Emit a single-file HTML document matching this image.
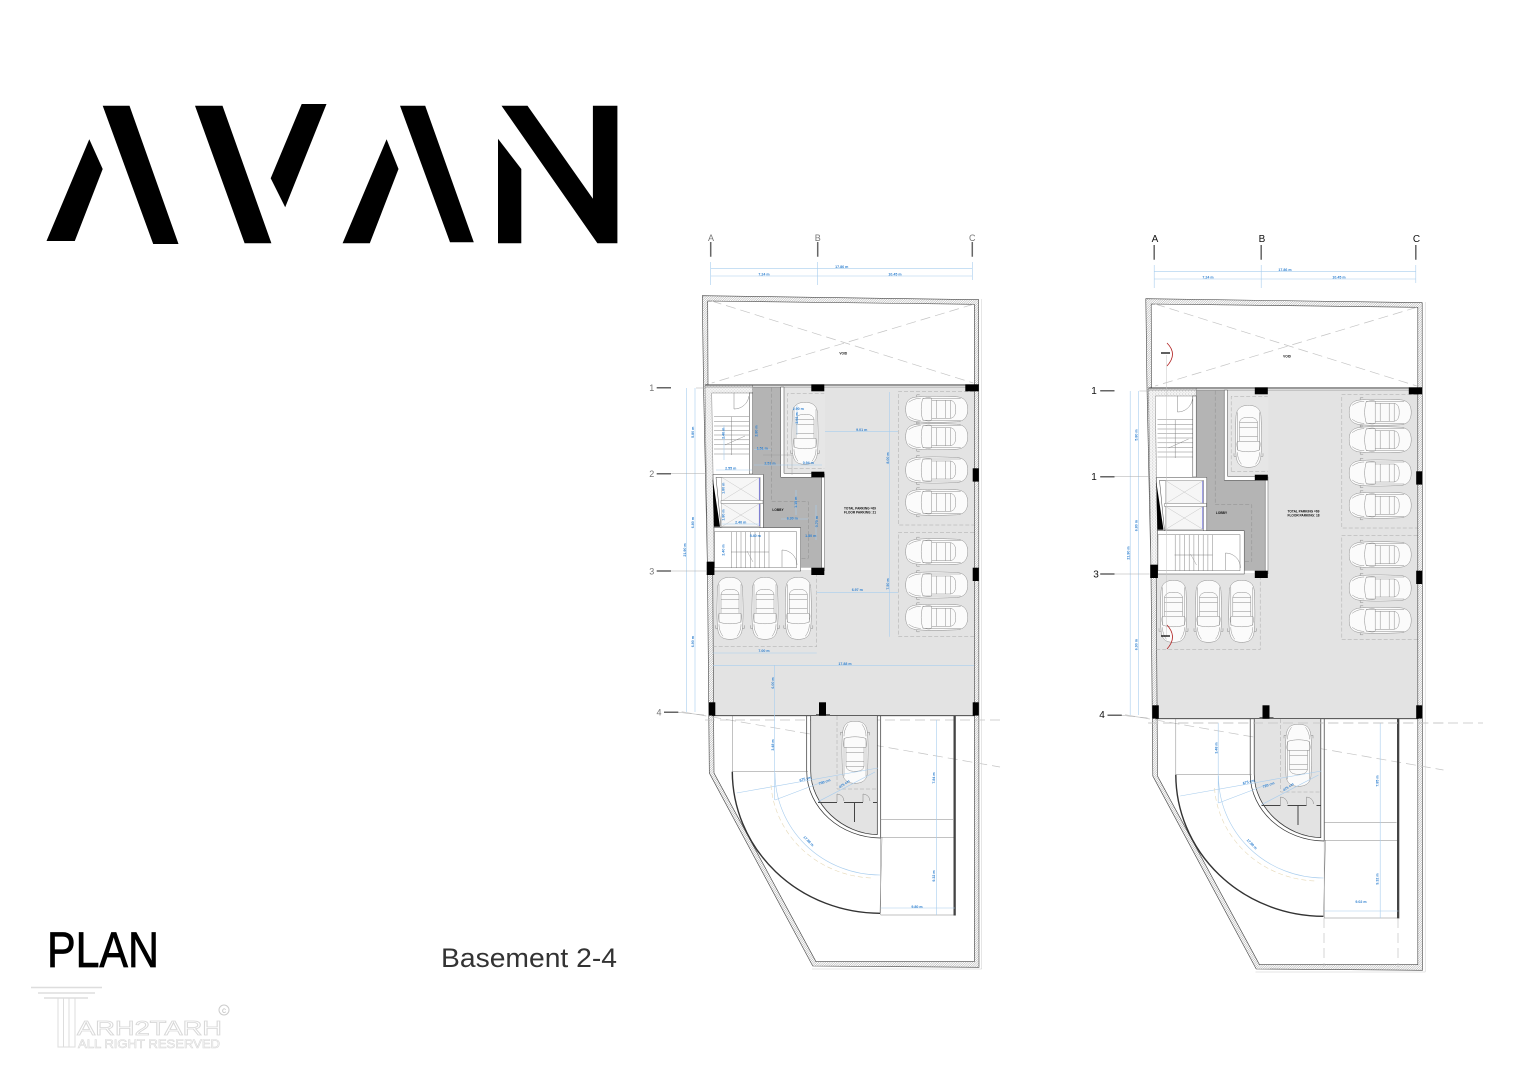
<!DOCTYPE html>
<html><head><meta charset="utf-8"><title>AVAN Plan</title>
<style>html,body{margin:0;padding:0;background:#fff}svg{display:block}
text{font-family:"Liberation Sans",sans-serif}
.d{fill:#2f80d0;font-size:3.6px;font-weight:bold;text-anchor:middle}
.k{fill:#111;font-size:3.2px;font-weight:bold;text-anchor:middle}
.g{fill:#777;font-size:9px;text-anchor:middle}
.b{fill:#111;font-size:10px;text-anchor:middle}
.dim{stroke:#a8cdee;stroke-width:.6;fill:none}
.dash{stroke:#c4c4c4;stroke-width:.7;stroke-dasharray:10 5;fill:none}
.thin{stroke:#777;stroke-width:.45;fill:none}
.wm{fill:#fff;stroke:#d8d8d8;stroke-width:.8}
</style></head><body>
<svg xmlns="http://www.w3.org/2000/svg" width="1527" height="1080" viewBox="0 0 1527 1080">
<defs>
<pattern id="h" width="1.6" height="1.6" patternUnits="userSpaceOnUse" patternTransform="rotate(45)"><rect width="1.6" height="1.6" fill="#fff"/><line x1="0" y1="0" x2="0" y2="1.6" stroke="#666" stroke-width=".55"/></pattern>
<pattern id="s" width="3" height="3" patternUnits="userSpaceOnUse"><rect width="3" height="3" fill="#f4f4f4"/><circle cx="1" cy="1" r=".35" fill="#888"/><circle cx="2.4" cy="2.2" r=".3" fill="#aaa"/></pattern>
<g id="car" fill="none" stroke="#8c8c8c" stroke-width=".5">
<path fill="#fbfbfb" d="M-31,0C-31,-8-28,-12-18,-12.500C-8,-13.500 8,-13 20,-12.500C28,-12 31,-7 31,0C31,7 28,12 20,12.500C8,13-8,13.500-18,12.500C-28,12-31,8-31,0Z"/>
<path d="M-14,-10.500C-9,-12-7,-12-5,-11L-5,11C-7,12-9,12-14,10.500C-16,4-16,-4-14,-10.500Z"/>
<path d="M-5,-9L14,-9L14,9L-5,9M0,-9L0,9M9,-9L9,9M14,-9C18,-8 19,-5 19,0C19,5 18,8 14,9"/>
<path d="M-28,-7C-24,-10-20,-11-16,-11M-28,7C-24,10-20,11-16,11M-20,-12.500L-20,-14.500L-17,-14.500M-20,12.500L-20,14.500L-17,14.500M-14,-11L24,-11M-14,11L24,11"/>
</g>
<g id="p">
<!-- floor -->
<path fill="#e3e3e3" d="M783,387H974.300V715.700H712.700L712,570H816.700V572H825V474H783Z"/>
<rect x="784" y="388" width="41" height="86" fill="#e6e6e6"/>
<!-- lobby -->
<path fill="#b4b4b4" d="M752.700,387H780.700V476.700H821.700V567.700H800.700V528.300H763.300V474.300H752.700Z"/>
<!-- walls hatched -->
<path fill="url(#h)" stroke="#444" stroke-width=".6" fill-rule="evenodd" d="M702.300,295.700L978.700,299.700L979,967.300L812.700,966L709.300,773L707.500,570L703.500,385ZM707.700,301L708,385L712.700,570L714,773L816,961.700L974.300,961.700L974.300,304.300Z"/>
<path d="M981.700,299V969H812" fill="none" stroke="#ccc" stroke-width=".5"/>
<!-- dotted wall -->
<path fill="url(#s)" stroke="#666" stroke-width=".4" d="M705,385H752.700V393H711.700L714.500,562H707.500Z"/>
<line x1="705" y1="385" x2="979" y2="385" stroke="#333" stroke-width=".9"/>
<line x1="705" y1="387" x2="975" y2="387" stroke="#666" stroke-width=".5"/>
<!-- void -->
<path class="dash" d="M711.700,301L973.300,383M973.300,304.300L711.700,383"/>
<!-- stair 1 -->
<rect x="749.300" y="393" width="3.400" height="81" fill="#fff" stroke="#444" stroke-width=".5"/>
<path class="thin" d="M714,416.700H749M714,421.300H749M714,426H749M714,430.500H749M714,435H749M714,439.800H749M714,444.400H749M714,449H749M714,454H749M731.700,416.700V455"/>
<path class="thin" d="M734,393V409M734,409A15,15 0 0 0 749,396"/>
<path d="M725,445L745,436" stroke="#777" stroke-width=".4"/>
<!-- elevators -->
<path fill="#fff" stroke="#444" stroke-width=".5" d="M713,474.300H763.300V528H760V477.300H716L721,527.700H714Z"/>
<rect x="721.700" y="477.300" width="38.300" height="23.700" fill="#f6f6f6" stroke="#888" stroke-width=".4"/>
<rect x="721.700" y="503.300" width="38.300" height="23.400" fill="#f6f6f6" stroke="#888" stroke-width=".4"/>
<path d="M721.700,477.300L760,501M760,477.300L721.700,501M721.700,503.300L760,526.700M760,503.300L721.700,526.700" stroke="#bbb" stroke-width=".4"/>
<path d="M759.300,478V500M759.300,504V526" stroke="#5a5ad8" stroke-width=".7"/>
<rect x="721" y="500.500" width="42" height="3" fill="#fff" stroke="#555" stroke-width=".4"/>
<path d="M712.700,478.300L720,526.700H714Z" fill="#000"/>
<!-- stair 2 -->
<rect x="714" y="527.700" width="86.700" height="43.300" fill="#fff" stroke="#444" stroke-width=".5"/>
<rect x="714.500" y="531.700" width="82" height="36" fill="#fff" stroke="#555" stroke-width=".4"/>
<path class="thin" d="M731.700,531.700V567.700M736.400,531.700V567.700M741,531.700V567.700M745.700,531.700V567.700M750.400,531.700V567.700M755,531.700V567.700M759.700,531.700V567.700M764.400,531.700V567.700M769,531.700V567.700M731,552H769"/>
<path class="thin" d="M782,567V550A15,15 0 0 1 797,565"/>
<path d="M747,551L753,562" stroke="#888" stroke-width=".4"/>
<!-- alcove walls -->
<path fill="#fff" stroke="#444" stroke-width=".5" d="M780.700,387H784V473.300H812V477.300H780.700Z"/>
<rect x="821.700" y="474" width="2.800" height="97" fill="#fff" stroke="#555" stroke-width=".5"/>
<!-- stall dashes -->
<path d="M787.700,468.300V393.300H824.300M787.700,468.300H824.300" fill="none" stroke="#aaa" stroke-width=".5" stroke-dasharray="4 2"/>
<path d="M974,391.700H898.300V525H974M974,532.300H898.300V636.700H974M712.700,646.700H816.700V573" fill="none" stroke="#aaa" stroke-width=".5" stroke-dasharray="4 2"/>
<path d="M771.700,387.700V501.700H808.300V558.300H800.700" fill="none" stroke="#8f8f8f" stroke-width=".5" stroke-dasharray="4 2"/>
<!-- cars -->
<use href="#car" transform="translate(936.700,409.300)"/>
<use href="#car" transform="translate(936.700,436.700)"/>
<use href="#car" transform="translate(936.700,470)"/>
<use href="#car" transform="translate(936.700,502.300)"/>
<use href="#car" transform="translate(936.700,551.700)"/>
<use href="#car" transform="translate(936.700,585)"/>
<use href="#car" transform="translate(936.700,617.300)"/>
<use href="#car" transform="translate(730,608.300) rotate(-90)"/>
<use href="#car" transform="translate(765,608.300) rotate(-90)"/>
<use href="#car" transform="translate(798.300,608.300) rotate(-90)"/>
<use href="#car" transform="translate(805,433.300) rotate(-90)"/>
<!-- ramp -->
<line x1="712" y1="715.700" x2="975" y2="715.700" stroke="#333" stroke-width=".8"/>
<path class="dash" d="M705,720H1000M681.700,711.700L1000,767"/>
<path fill="#e3e3e3" d="M810.700,716H877.300V835C843,835 810.700,806 810.700,771Z"/>
<use href="#car" transform="translate(855,752.300) rotate(90)"/>
<path fill="none" stroke="#333" stroke-width=".7" d="M806.700,716V771C806.700,808 841,838 880.700,838V716M810.700,716V771C810.700,805 843,834 877.300,834.500V716"/>
<path fill="none" stroke="#aaa" stroke-width=".5" stroke-dasharray="4 2" d="M837,716V789H877"/>
<path fill="none" stroke="#444" stroke-width="1" d="M818,802.500H837M844,802.500H863M873,802.500H877M854.500,803V822"/>
<path class="thin" d="M837,802V794A7,7 0 0 1 844,801M863,802V794A7,7 0 0 1 870,801"/>
<path class="thin" d="M732.300,716V771.700H808"/>
<path fill="none" stroke="#333" stroke-width="1.400" d="M732.300,771.700A148,142 0 0 0 880,913.300"/>
<path class="thin" d="M880.700,837V915H955M880.700,819.300H953M880.700,837.300H955M882,837L880,913"/>
<rect x="953.500" y="716" width="2.300" height="199.500" fill="#444"/>
<rect x="816" y="714" width="14" height="2" fill="#666"/>
<!-- columns -->
<g fill="#000"><rect x="811.300" y="384.300" width="13" height="7"/><rect x="965.300" y="384.300" width="13.300" height="7"/><rect x="811.300" y="471.700" width="13" height="5.700"/><rect x="972.700" y="468.300" width="6" height="13.300"/><rect x="706.700" y="561.700" width="7.700" height="13.300"/><rect x="811.300" y="567.700" width="13" height="7.300"/><rect x="972.700" y="567.700" width="6" height="13.300"/><rect x="709" y="702.300" width="6.300" height="13.300"/><rect x="819" y="702.300" width="7" height="13.300"/><rect x="972.700" y="702.300" width="6" height="13.300"/></g>
<!-- shared dimension lines -->
<path class="dim" d="M710.700,262V285M817.700,262V285M972.300,262V280M710.700,268.300H972.300M710.700,276H972.300M686.700,388V712M695,388V712M936.700,720V915M880.700,908H955M774.700,720V800"/>
<path class="dim" d="M775,773A105,102 0 0 0 880,875M736.700,793L878,768M775,800L825,781M818,801.700L875,772"/>
<path fill="none" stroke="#e6d9b8" stroke-width=".6" stroke-dasharray="5 3" d="M771,785A105,100 0 0 0 873,878"/>
<path fill="none" stroke="#aaa" stroke-width=".5" d="M706,388H696M706,473.700H671M706,571H671M678,712.300L704,715"/>
<path d="M656.700,387.700H671M656.700,473.700H671M656.700,571H671M664,712.300H678.300M710.700,242V256.700M817.700,242V256.700M972.300,242V256.700" stroke="#666" stroke-width="1.500" fill="none"/>
</g>
</defs>
<rect width="1527" height="1080" fill="#fff"/>
<!-- AVAN logo -->
<g fill="#000">
<polygon points="46.500,241 89.300,139.300 102.700,169 74.800,241"/>
<polygon points="102.700,105.700 129.500,105.700 178.500,244 153.200,244"/>
<polygon points="195,105.700 222.500,105.700 271.400,243.300 244.600,243.300"/>
<polygon points="301.700,104 326.500,104 285.200,207.300 270.700,178.300"/>
<polygon points="342.600,243.300 386.600,139.300 398.500,169 369.800,243.300"/>
<polygon points="400,105.700 425.200,105.700 473.800,242.300 450,242.300"/>
<polygon points="498,138.700 521.300,169 521.300,243.300 498,243.300"/>
<polygon points="501.500,105.700 527.500,105.700 592.900,198.700 592.900,105.700 617.400,105.700 617.400,243.300 597.400,243.300"/>
</g>
<text x="47" y="967" font-size="50" textLength="112" lengthAdjust="spacingAndGlyphs" fill="#000" stroke="#000" stroke-width=".8">PLAN</text>
<text x="441" y="967" font-size="27" textLength="176" lengthAdjust="spacingAndGlyphs" fill="#333">Basement 2-4</text>
<!-- watermark -->
<g fill="none" stroke="#ddd" stroke-width="1.500"><path d="M31,987.500H102M38,993H95M44,998H88"/><path stroke-width="1" d="M58,998V1047H75V998M63.500,998V1047M69,998V1047"/></g>
<text x="77" y="1035" font-size="20" textLength="145" lengthAdjust="spacingAndGlyphs" class="wm">ARH2TARH</text>
<text x="78" y="1048" font-size="12" textLength="142" lengthAdjust="spacingAndGlyphs" class="wm" style="stroke-width:.6">ALL RIGHT RESERVED</text>
<circle cx="224" cy="1010" r="5" fill="none" stroke="#ccc"/><text x="224" y="1013" font-size="8" text-anchor="middle" fill="#bbb">c</text>

<!-- PLAN A -->
<use href="#p"/>
<g>
<path class="dim" d="M825,431.700H898M816.700,592.300H898M712.700,653H816.700M713,665.700H974M889.300,392V636.700M774.700,665V720M716,470H752M754,449.500H771M754,465H822M724,425V460M797,405V435M722,524H760M781,519H808M796,490V515M816,505V540"/>
<path d="M763,455H792V475" fill="none" stroke="#999" stroke-width=".4"/>
<text class="k" x="843.300" y="354.500">VOID</text>
<text class="k" x="778" y="511">LOBBY</text>
<text class="k" x="860" y="509.500">TOTAL PARKING =69</text><text class="k" x="860" y="513.500">FLOOR PARKING: 21</text>
<text class="g" x="711" y="241">A</text><text class="g" x="817.700" y="241">B</text><text class="g" x="972.300" y="241">C</text>
<text class="g" x="651.700" y="391">1</text><text class="g" x="651.700" y="477">2</text><text class="g" x="651.700" y="574.500">3</text><text class="g" x="659" y="715.500">4</text>
<text class="d" x="841.700" y="268">17.86 m</text><text class="d" x="764" y="275.500">7.24 m</text><text class="d" x="895" y="275.500">10.45 m</text>
<text class="d" x="730.700" y="469.500">2.55 m</text><text class="d" x="762.300" y="449.500">1.51 m</text><text class="d" x="770" y="464.500">2.51 m</text><text class="d" x="798.300" y="410">2.90 m</text><text class="d" x="808.300" y="464">0.94 m</text><text class="d" x="740.700" y="523.500">2.40 m</text><text class="d" x="792.300" y="519.500">6.30 m</text><text class="d" x="810.700" y="537">1.80 m</text><text class="d" x="755.300" y="537">5.40 m</text>
<text class="d" x="861.700" y="431">9.01 m</text><text class="d" x="857.300" y="591">6.97 m</text><text class="d" x="764" y="652">7.00 m</text><text class="d" x="845" y="665">17.88 m</text><text class="d" x="917" y="908">9.80 m</text>
<text class="d" transform="translate(694,432.300) rotate(-90)">5.80 m</text><text class="d" transform="translate(694,522.700) rotate(-90)">6.80 m</text><text class="d" transform="translate(686,550) rotate(-90)">21.90 m</text><text class="d" transform="translate(694,641.700) rotate(-90)">6.90 m</text>
<text class="d" transform="translate(724.500,433.300) rotate(-90)">2.40 m</text><text class="d" transform="translate(757.500,431) rotate(-90)">2.80 m</text><text class="d" transform="translate(798,418) rotate(-90)">2.62 m</text><text class="d" transform="translate(724.500,488.300) rotate(-90)">1.80 m</text><text class="d" transform="translate(724.500,515) rotate(-90)">1.80 m</text><text class="d" transform="translate(797,502.300) rotate(-90)">1.15 m</text><text class="d" transform="translate(818,521.700) rotate(-90)">0.70 m</text><text class="d" transform="translate(724.500,550) rotate(-90)">2.40 m</text>
<text class="d" transform="translate(889,458) rotate(-90)">8.00 m</text><text class="d" transform="translate(889,584) rotate(-90)">7.50 m</text><text class="d" transform="translate(774,683) rotate(-90)">6.00 m</text><text class="d" transform="translate(774,745) rotate(-90)">3.48 m</text><text class="d" transform="translate(935,778) rotate(-90)">7.84 m</text><text class="d" transform="translate(935,876) rotate(-90)">9.32 m</text>
<text class="d" transform="translate(805.700,780) rotate(-15)">675 cm</text><text class="d" transform="translate(825,783) rotate(-20)">700 cm</text><text class="d" transform="translate(845,785) rotate(-35)">475 cm</text><text class="d" transform="translate(807.700,842) rotate(45)">17.88 m</text>
</g>

<!-- PLAN B -->
<use href="#p" transform="translate(443.500,3)"/>
<g>
<path class="dash" d="M1148,723H1483M1324,918V967M1398,918V967" />
<path d="M1166.700,355V637" stroke="#c4c4c4" stroke-width=".5"/>
<path d="M1167,343Q1178,354 1167,366M1167,625Q1178,637 1167,649" fill="none" stroke="#b02020" stroke-width=".8"/>
<path d="M1161,353H1170M1161,636H1170" stroke="#000" stroke-width="1.200"/>
<text class="k" x="1287" y="357.500">VOID</text>
<text class="k" x="1221.500" y="514">LOBBY</text>
<text class="k" x="1303.500" y="512.500">TOTAL PARKING =69</text><text class="k" x="1303.500" y="516.500">FLOOR PARKING: 18</text>
<text class="b" x="1155" y="242">A</text><text class="b" x="1262" y="242">B</text><text class="b" x="1416.500" y="242">C</text>
<text class="b" x="1094" y="394">1</text><text class="b" x="1094" y="480">1</text><text class="b" x="1096" y="577.500">3</text><text class="b" x="1102" y="718">4</text>
<text class="d" x="1285" y="271">17.86 m</text><text class="d" x="1208" y="278.500">7.24 m</text><text class="d" x="1339" y="278.500">10.45 m</text>
<text class="d" x="1361" y="903">9.02 m</text>
<text class="d" transform="translate(1137.500,435) rotate(-90)">5.80 m</text><text class="d" transform="translate(1137.500,525.700) rotate(-90)">6.80 m</text><text class="d" transform="translate(1129.500,553) rotate(-90)">21.90 m</text><text class="d" transform="translate(1137.500,644.700) rotate(-90)">6.90 m</text>
<text class="d" transform="translate(1217.500,748) rotate(-90)">3.48 m</text><text class="d" transform="translate(1378.500,781) rotate(-90)">7.85 m</text><text class="d" transform="translate(1378.500,879) rotate(-90)">9.32 m</text>
<text class="d" transform="translate(1249,783) rotate(-15)">675 cm</text><text class="d" transform="translate(1269,786) rotate(-20)">720 cm</text><text class="d" transform="translate(1289,788) rotate(-35)">475 cm</text><text class="d" transform="translate(1251,845) rotate(45)">17.88 m</text>
</g>
</svg>
</body></html>
